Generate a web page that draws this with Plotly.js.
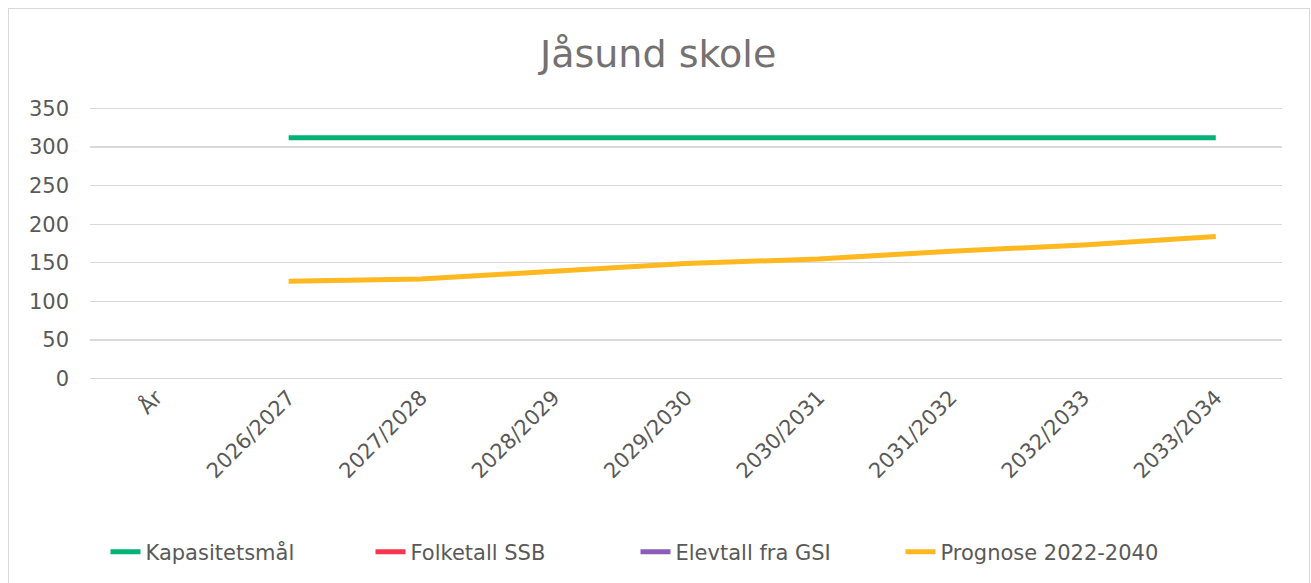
<!DOCTYPE html>
<html>
<head>
<meta charset="utf-8">
<script src="https://cdn.plot.ly/plotly-3.0.1.min.js"></script>
<style>
html,body{margin:0;padding:0;background:#fff;}
#frame{position:absolute;left:8px;top:8px;width:1302px;height:580px;border:1px solid #d9d9d9;box-sizing:border-box;}
#chart{position:absolute;left:0;top:0;width:1311px;height:583px;}
</style>
</head>
<body>
<div id="frame"></div>
<div id="chart"></div>
<script>
const categories = ["År","2026/2027","2027/2028","2028/2029","2029/2030","2030/2031","2031/2032","2032/2033","2033/2034"];
const kapasitetsmal = [null,312,312,312,312,312,312,312,312];
const folketallSSB = [null,null,null,null,null,null,null,null,null];
const elevtallGSI = [null,null,null,null,null,null,null,null,null];
const prognose = [null,126,129,139,149,155,165,173,184];

const mk = (name, y, color) => ({
  type:'scatter', mode:'lines', name:name, x:categories, y:y,
  line:{color:color, width:5}, connectgaps:false
});

const data = [
  mk('Kapasitetsmål', kapasitetsmal, '#00b274'),
  mk('Folketall SSB', folketallSSB, '#f5364e'),
  mk('Elevtall fra GSI', elevtallGSI, '#8b5cb8'),
  mk('Prognose 2022-2040', prognose, '#ffb81f')
];

const layout = {
  width:1311, height:583,
  margin:{l:90, r:29, t:107, b:203, autoexpand:false},
  paper_bgcolor:'rgba(0,0,0,0)', plot_bgcolor:'rgba(0,0,0,0)',
  font:{family:'DejaVu Sans, Verdana, sans-serif', color:'#595959', size:21},
  title:{text:'Jåsund skole', x:0.502, xref:'container', xanchor:'center', y:55, yref:'container', yanchor:'middle',
         font:{size:38, color:'#757171', family:'DejaVu Sans, Verdana, sans-serif'}},
  xaxis:{type:'category', range:[-0.5,8.5], tickangle:-45, showgrid:false, zeroline:false,
         showline:false, ticks:'', tickfont:{size:21, color:'#595959'}, automargin:false},
  yaxis:{range:[-2,352], dtick:50, tick0:0, showgrid:true, gridcolor:'#d9d9d9', gridwidth:1.3,
         zeroline:false, showline:false, ticks:'', ticklabelstandoff:20,
         tickfont:{size:21, color:'#595959'}, automargin:false},
  showlegend:true,
  legend:{orientation:'h', x:0.013, xref:'paper', xanchor:'left', y:-0.63, yanchor:'middle',
          font:{size:21, color:'#595959'}, tracegroupgap:0, entrywidthmode:'pixels', entrywidth:220},
  hovermode:false
};

Plotly.newPlot('chart', data, layout, {displayModeBar:false, staticPlot:true});
</script>
</body>
</html>
